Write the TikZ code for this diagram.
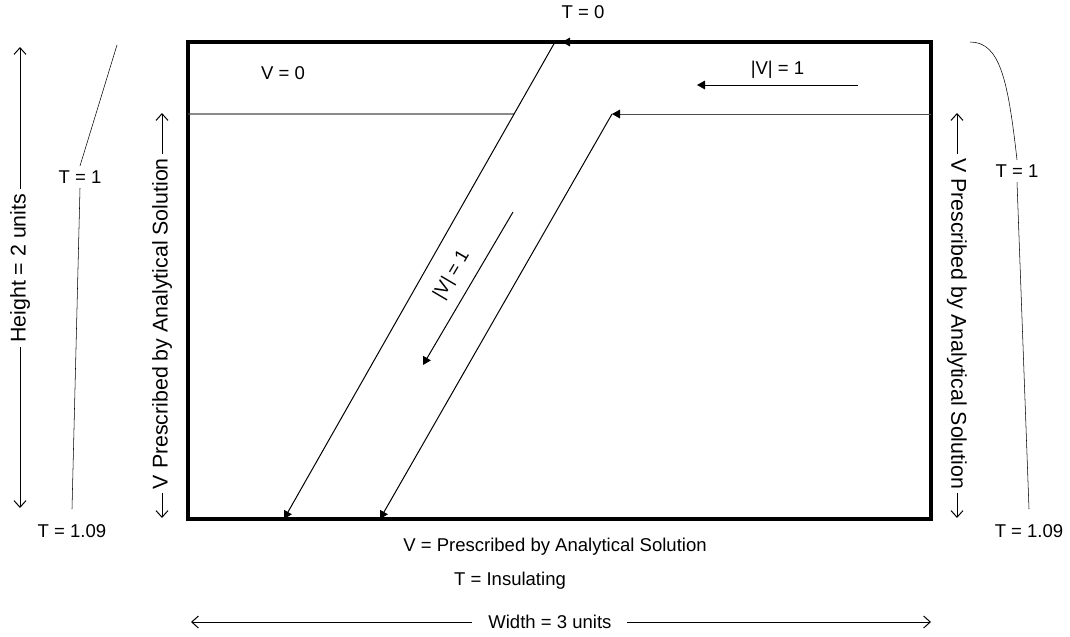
\documentclass[tikz,border=0pt]{standalone}
\usepackage{fontspec}
\setmainfont{Liberation Sans}
\usetikzlibrary{arrows.meta,calc,positioning}

\begin{document}
\begin{tikzpicture}[x=0.75pt, y=-0.75pt,
    wall/.style={line width=2.6pt},
    layer/.style={line width=0.8pt, black!70},
    flow/.style={line width=0.75pt, -{Triangle[length=6pt,width=6.5pt,color=black]}},
    dim/.style={line width=0.75pt, {Straight Barb[length=5pt,width=9pt]}-{Straight Barb[length=5pt,width=9pt]}},
    lbl/.style={font=\fontsize{13.9}{16}\selectfont},
    vlbl/.style={font=\fontsize{16}{18}\selectfont, fill=white}]
    \useasboundingbox (0,0) rectangle (1070,636);

    % --- Domain ---
    \coordinate (nw) at (188,42);
    \coordinate (ne) at (931,42);
    \coordinate (se) at (931,519);
    \coordinate (lw) at (188,114);
    \coordinate (rw) at (931,114);
    \draw[wall] (nw) rectangle (se);

    % --- Inclined layer ---
    \coordinate (in1) at (555,42);
    \coordinate (out1) at (284,519);
    \coordinate (in2) at (612,114);
    \coordinate (out2) at (380,519);
    \draw[layer] (lw) -- ($(in1)!{72/477}!(out1)$);
    \draw[flow] (ne) -- ($(in1)+(7,0)$);
    \draw[flow] (in1) -- (out1);
    \draw[flow, black!70] (rw) -- (in2);
    \draw[flow] (in2) -- (out2);

    % velocity in the layer
    \coordinate (v1a) at (858,85);
    \coordinate (v1b) at (697,85);
    \draw[flow] (v1a) -- node[lbl, above=1pt] (vtop) {|V| = 1} (v1b);
    \coordinate (v2a) at (513,212);
    \coordinate (v2b) at (423,365);
    \draw[flow] (v2a) -- (v2b);
    \node[lbl, rotate=59.5] (vdiag) at (452,275) {|V| = 1};

    \node[lbl] (T0) at (583,12) {T = 0};
    \node[lbl] (V0) at (283,73) {V = 0};

    % --- Left side ---
    \coordinate (hTop) at (20,47);
    \coordinate (hBot) at (20,508);
    \draw[dim] (hTop) -- node[pos=0.48, vlbl, rotate=90] (height) {Height = 2 units} (hBot);
    \node[lbl] (lT1) at (80,177) {T = 1};
    \node[lbl] (lT109) at (72,531) {T = 1.09};
    \coordinate (lTtop) at (117,45);
    \draw (lTtop) -- (lT1.north);
    \draw (lT1.south) -- ([yshift=8pt]lT109.north);
    \coordinate (lvTop) at (162,113);
    \coordinate (lvBot) at (162,518);
    \draw[dim] (lvTop) -- node[pos=0.52, vlbl, rotate=90] (lV) {V Prescribed by Analytical Solution} (lvBot);

    % --- Right side ---
    \coordinate (rvTop) at (957,113);
    \coordinate (rvBot) at (957,518);
    \draw[dim] (rvTop) -- node[pos=0.52, vlbl, rotate=-90] (rV) {V Prescribed by Analytical Solution} (rvBot);
    \node[lbl] (rT1) at (1017,171) {T = 1};
    \node[lbl] (rT109) at (1029,531) {T = 1.09};
    \coordinate (rTtop) at (970,42);
    \draw (rTtop) .. controls (1000,42) and (1008,80) .. (rT1.north);
    \draw (rT1.south) -- ([yshift=8pt]rT109.north);

    % --- Bottom ---
    \node[lbl] (bV) at (555,547) {V = Prescribed by Analytical Solution};
    \node[lbl] (bT) at (510,581) {T = Insulating};
    \coordinate (wL) at (191,622);
    \coordinate (wR) at (931,622);
    \draw[dim] (wL) -- node[pos=0.485, lbl, fill=white, inner xsep=12pt] (width) {Width = 3 units} (wR);
\end{tikzpicture}
\end{document}
